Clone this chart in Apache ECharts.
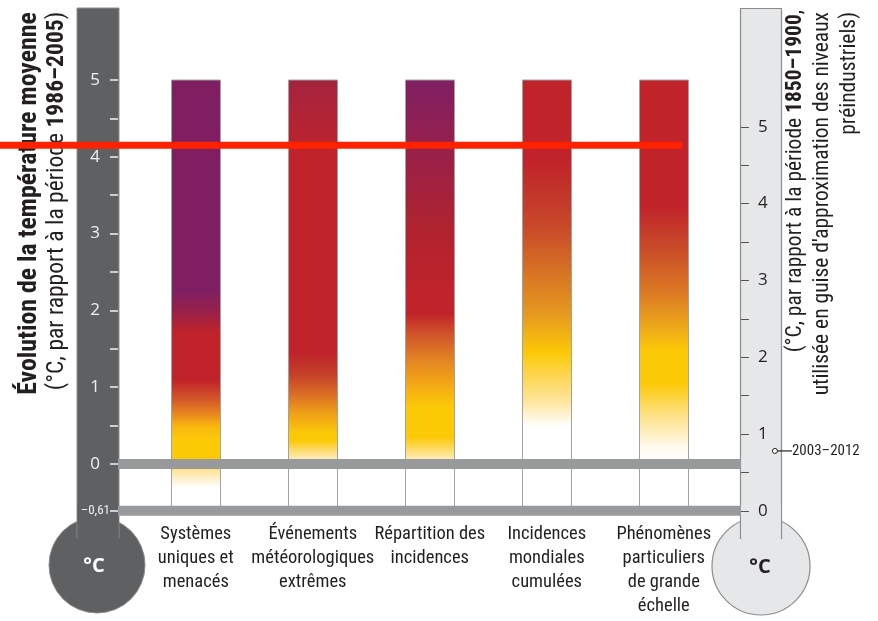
<!DOCTYPE html>
<html><head><meta charset="utf-8">
<script src="https://cdn.jsdelivr.net/npm/echarts@6/dist/echarts.min.js"></script>
<style>html,body{margin:0;padding:0;background:#fff}#c{width:878px;height:621px}</style>
</head><body><div id="c"></div>
<script>
// ---------- DATA ----------
const categories = ['Systèmes\nuniques et\nmenacés', 'Événements\nmétéorologiques\nextrêmes', 'Répartition des\nincidences', 'Incidences\nmondiales\ncumulées', 'Phénomènes\nparticuliers\nde grande\néchelle'];
const barTop = 5;          // °C (vs 1986–2005)
const barBase = -0.61;     // °C (vs 1986–2005) = pre-industrial
// colour stops along each bar: [°C vs 1986–2005, colour]
const stopsSystemes = [[5,'#7f1f62'],[2.25,'#7f1f62'],[1.97,'#9a2147'],[1.71,'#c1232a'],[1.09,'#c1232a'],[0.83,'#d45a28'],[0.66,'#e8851f'],[0.49,'#f9b80f'],[0.31,'#fcc907'],[0,'#fcc907'],[-0.08,'#fde49a'],[-0.25,'#fff8ea'],[-0.31,'#ffffff'],[-0.61,'#ffffff']];
const stopsEvenements = [[5,'#a3243f'],[3.96,'#c1232a'],[1.44,'#c1232a'],[1.18,'#c4402a'],[0.92,'#d96b25'],[0.66,'#f0a018'],[0.40,'#fcc907'],[0.31,'#fcc907'],[0.18,'#fddb70'],[0.05,'#fef0c8'],[0,'#ffffff'],[-0.61,'#ffffff']];
const stopsRepartition = [[5,'#7f1f62'],[3.96,'#9a2148'],[3.09,'#b0232f'],[2.13,'#c1232a'],[1.96,'#c1232a'],[1.71,'#d0512a'],[1.35,'#e38522'],[1.0,'#f6ad14'],[0.74,'#fcc907'],[0.35,'#fcc907'],[0.08,'#fde9b0'],[0,'#ffffff'],[-0.61,'#ffffff']];
const stopsMondiales = [[5,'#c1232a'],[3.96,'#c1232a'],[3.52,'#c2352a'],[3.09,'#c9482a'],[2.57,'#d56e25'],[1.97,'#e59820'],[1.45,'#fcc907'],[1.18,'#fdd44a'],[0.83,'#fde49a'],[0.49,'#ffffff'],[-0.61,'#ffffff']];
const stopsPhenomenes = [[5,'#c1232a'],[3.35,'#c1232a'],[2.83,'#c84a29'],[2.22,'#dc7a24'],[1.79,'#eca81a'],[1.48,'#fcc907'],[1.05,'#fcc907'],[0.66,'#fde080'],[0.22,'#fffaf0'],[0,'#ffffff'],[-0.61,'#ffffff']];
const barStops = [stopsSystemes, stopsEvenements, stopsRepartition, stopsMondiales, stopsPhenomenes];
const redLineValue = 4.15;          // °C vs 1986–2005
const redLineEnd = 5.13;            // category position where the line stops
const refLines = [0, -0.61];        // grey bands
const leftTicks = [-0.61, 0, 0.5, 1, 1.5, 2, 2.5, 3, 3.5, 4, 4.5, 5];
const leftLabels = [-0.61, 0, 1, 2, 3, 4, 5];
const rightTicks = [0, 0.5, 1, 1.5, 2, 2.5, 3, 3.5, 4, 4.5, 5];
const rightLabels = [0, 1, 2, 3, 4, 5];
const preindOffset = 0.61;
const periodLabel = '2003–2012';
const periodValue = 0.78;           // °C vs 1850–1900
const periodPos = 5.95;             // horizontal position (category units)
const leftTitle = 'Évolution de la température moyenne';
const leftSub = ['(°C, par rapport à la période ', '1986–2005', ')'];
const rightSub1 = ['(°C, par rapport à la période ', '1850–1900', ','];
const rightSub2 = "utilisée en guise d'approximation des niveaux";
const rightSub3 = 'préindustriels)';

// ---------- LAYOUT / STYLE ----------
const NARROW = "'Roboto Condensed','Open Sans Condensed',sans-serif";
const yMax = 6;
const xMin = -0.6735, xMax = 6.8308;
const barWidth = 0.4188;
const gridTop = 3.2, gridBottom = 110.15;

const mctx = document.createElement('canvas').getContext('2d');
function textW(parts, size) {
  let w = 0;
  for (const [t, b] of parts) { mctx.font = (b ? 'bold ' : '') + size + 'px ' + NARROW; w += mctx.measureText(t).width; }
  return w;
}
function fit(parts, target) { return Math.round(target / textW(parts, 100) * 1000) / 10; }
const sTitle = fit([[leftTitle, true]], 383);
const sLeftSub = fit([[leftSub[0], false], [leftSub[1], true], [leftSub[2], false]], 378);
const sRight = fit([[rightSub2, false]], 383);

const chart = echarts.init(document.getElementById('c'), null, {renderer:'canvas'});
const option = {
  animation: false,
  backgroundColor: '#ffffff',
  grid: [
    {left: 118, right: 137, top: gridTop, bottom: gridBottom},
    {left: 0, right: 0, top: gridTop, bottom: gridBottom}
  ],
  xAxis: [
    {gridIndex: 0, type: 'value', min: 0, max: 1, show: false},
    {gridIndex: 1, type: 'value', min: xMin, max: xMax,
     axisLine: {show: false}, axisTick: {show: false}, splitLine: {show: false},
     axisLabel: {customValues: [1,2,3,4,5], formatter: v => categories[Math.round(v)-1] || '',
       margin: 12, lineHeight: 24, fontSize: 18.5, color: '#231f20', fontFamily: NARROW, align: 'center'}}
  ],
  yAxis: [
    {gridIndex: 0, type: 'value', position: 'left', offset: 1, min: barBase, max: yMax, z: 6,
     axisLine: {show: false}, splitLine: {show: false},
     axisTick: {show: true, customValues: leftTicks, length: 8, lineStyle: {color: '#f2f2f2', width: 1.5}},
     axisLabel: {customValues: leftLabels, margin: 7,
       formatter: v => Math.abs(v - barBase) < 1e-6 ? '{s|–0,61}' : '{n|' + Math.round(v) + '}',
       rich: {s: {fontSize: 13, color: '#f0f0f0', fontFamily: NARROW},
              n: {fontSize: 17, color: '#f0f0f0', fontFamily: "'Open Sans',sans-serif", padding: [0, 10, 0, 0]}}}},
    {gridIndex: 0, type: 'value', position: 'right', min: barBase + preindOffset, max: yMax + preindOffset, z: 6,
     axisLine: {show: false}, splitLine: {show: false},
     axisTick: {show: true, customValues: rightTicks, length: 8, lineStyle: {color: '#555555', width: 1}},
     axisLabel: {customValues: rightLabels, margin: 17, color: '#231f20', fontSize: 17, fontFamily: "'Open Sans',sans-serif",
       formatter: v => String(Math.round(v))}},
    {gridIndex: 1, type: 'value', min: barBase, max: yMax, show: false},
    {gridIndex: 1, type: 'value', min: barBase + preindOffset, max: yMax + preindOffset, show: false}
  ],
  graphic: [
    // left thermometer
    {type: 'circle', z: 1, shape: {cx: 97, cy: 565, r: 48}, style: {fill: '#5f6062', stroke: '#8d8d8d', lineWidth: 1}},
    {type: 'rect', z: 1, shape: {x: 77, y: 8, width: 42, height: 530}, style: {fill: '#5f6062', stroke: '#8d8d8d', lineWidth: 1}},
    {type: 'rect', z: 1, shape: {x: 77.6, y: 505, width: 40.8, height: 40}, style: {fill: '#5f6062'}},
    {type: 'text', z: 2, x: 94, y: 566, style: {text: '°C', fill: '#ffffff', font: "bold 20px 'Open Sans',sans-serif", align: 'center', verticalAlign: 'middle'}},
    // right thermometer
    {type: 'circle', z: 1, shape: {cx: 761, cy: 566, r: 49}, style: {fill: '#e6e7e8', stroke: '#8c8c8c', lineWidth: 1.2}},
    {type: 'rect', z: 1, shape: {x: 740.5, y: 8.5, width: 41, height: 530}, style: {fill: '#e6e7e8', stroke: '#8c8c8c', lineWidth: 1.2}},
    {type: 'rect', z: 1, shape: {x: 741.2, y: 505, width: 39.6, height: 40}, style: {fill: '#e6e7e8'}},
    {type: 'text', z: 2, x: 760, y: 567, style: {text: '°C', fill: '#231f20', font: "bold 20px 'Open Sans',sans-serif", align: 'center', verticalAlign: 'middle'}},
    // left titles
    {type: 'text', z: 2, x: 30, y: 203.5, rotation: Math.PI/2, style: {text: leftTitle, fill: '#231f20', font: 'bold ' + sTitle + 'px ' + NARROW, align: 'center', verticalAlign: 'middle'}},
    {type: 'text', z: 2, x: 57, y: 201, rotation: Math.PI/2, style: {text: leftSub[0] + '{b|' + leftSub[1] + '}' + leftSub[2], fill: '#231f20', font: sLeftSub + 'px ' + NARROW, align: 'center', verticalAlign: 'middle',
      rich: {b: {fontWeight: 'bold', fontSize: sLeftSub, fontFamily: NARROW, fill: '#231f20'}}}},
    // right titles
    {type: 'text', z: 2, x: 796, y: 10, rotation: Math.PI/2, style: {text: rightSub1[0] + '{b|' + rightSub1[1] + '}' + rightSub1[2], fill: '#231f20', font: sRight + 'px ' + NARROW, align: 'right', verticalAlign: 'middle',
      rich: {b: {fontWeight: 'bold', fontSize: sRight, fontFamily: NARROW, fill: '#231f20'}}}},
    {type: 'text', z: 2, x: 823, y: 12, rotation: Math.PI/2, style: {text: rightSub2, fill: '#231f20', font: sRight + 'px ' + NARROW, align: 'right', verticalAlign: 'middle'}},
    {type: 'text', z: 2, x: 850, y: 12, rotation: Math.PI/2, style: {text: rightSub3, fill: '#231f20', font: sRight + 'px ' + NARROW, align: 'right', verticalAlign: 'middle'}}
  ],
  series: [
    {type: 'custom', xAxisIndex: 1, yAxisIndex: 2, z: 3, silent: true,
     data: categories.map((c, i) => [i + 1, barTop]),
     encode: {x: 0, y: 1},
     renderItem: function (params, api) {
       const i = api.value(0);
       const top = api.coord([i, barTop]);
       const bot = api.coord([i, barBase]);
       const w = api.size([barWidth, 0])[0];
       const span = barTop - barBase;
       const stops = barStops[params.dataIndex].map(s => ({offset: Math.min(1, Math.max(0, (barTop - s[0]) / span)), color: s[1]}));
       return {type: 'rect', shape: {x: Math.round(top[0] - w/2) + 0.5, y: top[1], width: Math.round(w), height: bot[1] - top[1]},
         style: {fill: new echarts.graphic.LinearGradient(0, 0, 0, 1, stops), stroke: '#a2a2a2', lineWidth: 1}};
     }},
    {type: 'custom', xAxisIndex: 0, yAxisIndex: 0, z: 4, silent: true,
     data: refLines.map(v => [0, v]),
     encode: {x: 0, y: 1},
     renderItem: function (params, api) {
       const a = api.coord([0, api.value(1)]);
       const b = api.coord([1, api.value(1)]);
       return {type: 'line', shape: {x1: a[0], y1: a[1], x2: b[0], y2: b[1]}, style: {stroke: '#98999b', lineWidth: 10}};
     }},
    {type: 'line', xAxisIndex: 1, yAxisIndex: 2, z: 10, silent: true, symbol: 'none',
     data: [[xMin, redLineValue], [redLineEnd, redLineValue]],
     lineStyle: {color: '#ff2200', width: 7, cap: 'round'}},
    {type: 'custom', xAxisIndex: 1, yAxisIndex: 3, z: 6, silent: true,
     data: [[periodPos, periodValue]],
     encode: {x: 0, y: 1},
     renderItem: function (params, api) {
       const p = api.coord([api.value(0), api.value(1)]);
       return {type: 'group', children: [
         {type: 'line', shape: {x1: p[0] + 2.5, y1: p[1], x2: p[0] + 17, y2: p[1]}, style: {stroke: '#231f20', lineWidth: 1.2}},
         {type: 'circle', shape: {cx: p[0], cy: p[1], r: 2.5}, style: {fill: '#ffffff', stroke: '#231f20', lineWidth: 1}},
         {type: 'text', x: p[0] + 17, y: p[1], style: {text: periodLabel, fill: '#231f20', font: "15px " + NARROW, align: 'left', verticalAlign: 'middle'}}
       ]};
     }}
  ]
};
chart.setOption(option);
</script>
</body></html>
